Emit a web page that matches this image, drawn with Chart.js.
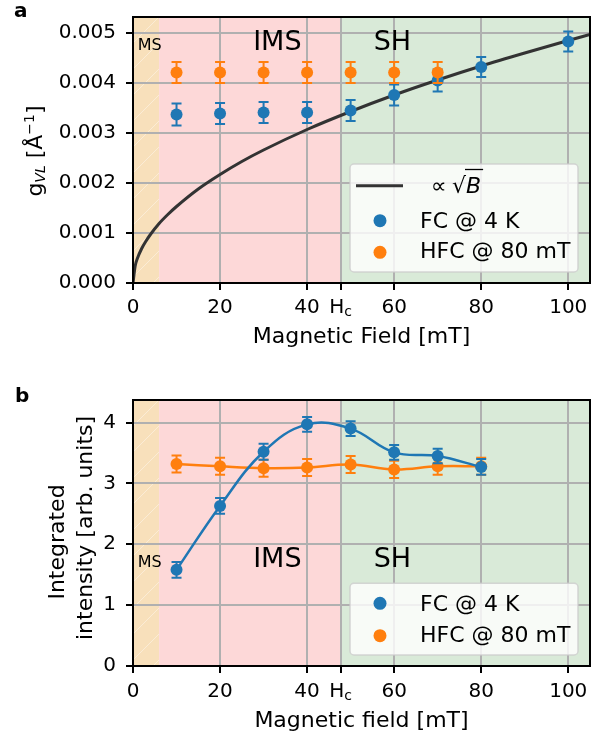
<!DOCTYPE html>
<html>
<head>
<meta charset="utf-8">
<script src="https://cdn.jsdelivr.net/npm/chart.js@4.4.0/dist/chart.umd.min.js"></script>
<style>
  body { margin: 0; background: #fff; width: 600px; height: 737px; position: relative; overflow: hidden; }
  canvas { position: absolute; left: 0; }
  #chart-a { top: 0; }
  #chart-b { top: 350px; }
</style>
</head>
<body>
<canvas id="chart-a" width="600" height="350"></canvas>
<canvas id="chart-b" width="600" height="387"></canvas>
<script>
// panel a: vortex lattice g vs field
const fieldsFC = [10, 20, 30, 40, 50, 60, 70, 80, 100];
const gFC = [0.00337, 0.00339, 0.00341, 0.00341, 0.00345, 0.00376, 0.00405, 0.00432, 0.00483];
const gFCErr = [0.00022, 0.00021, 0.00021, 0.00021, 0.00021, 0.00021, 0.00022, 0.00020, 0.00020];
const fieldsHFC = [10, 20, 30, 40, 50, 60, 70];
const gHFC = [0.00421, 0.00421, 0.00421, 0.00421, 0.00421, 0.00421, 0.00421];
const gHFCErr = [0.00021, 0.00021, 0.00021, 0.00021, 0.00021, 0.00021, 0.00021];
const sqrtFields = [0, 0.5, 1, 2, 3, 4, 6, 8, 10, 15, 20, 25, 30, 40, 50, 60, 70, 80, 90, 100, 105];
const sqrtG = [0, 0.00034, 0.00049, 0.00069, 0.00084, 0.00097, 0.00119, 0.00137, 0.00153, 0.00188,
  0.00217, 0.00243, 0.00266, 0.00307, 0.00343, 0.00376, 0.00406, 0.00434, 0.0046, 0.00485, 0.00497];

// panel b: integrated intensity
const fieldsInt = [10, 20, 30, 40, 50, 60, 70, 80];
const intFC = [1.58, 2.63, 3.52, 3.97, 3.90, 3.51, 3.45, 3.27];
const intFCErr = [0.13, 0.13, 0.13, 0.12, 0.12, 0.12, 0.12, 0.13];
const intHFC = [3.32, 3.28, 3.25, 3.26, 3.31, 3.23, 3.28, 3.28];
const intHFCErr = [0.14, 0.14, 0.14, 0.14, 0.14, 0.14, 0.14, 0.14];

// regions and ticks
const regionEdges = [0, 6, 47.7, 105];
const regionNames = ['MS', 'IMS', 'SH'];
const regionColors = ['#f8e0bb', '#fdd8d8', '#d9ead8'];
const xTicks = [0, 20, 40, 47.7, 60, 80, 100];
const xTickLabels = ['0', '20', '40', 'H_c', '60', '80', '100'];
const yTicksA = [0, 0.001, 0.002, 0.003, 0.004, 0.005];
const yTicksB = [0, 1, 2, 3, 4];

const BLUE = '#1f77b4';
const ORANGE = '#ff7f0e';
const FONT = 'DejaVu Sans';
const FS = 20;      // tick labels
const LS = 22;      // axis titles, legend

const pts = (xs, ys) => xs.map((x, i) => ({ x: x, y: ys[i] }));

function richText(ctx, parts, cx, cy, rotate) {
  ctx.save();
  let total = 0;
  parts.forEach(p => { ctx.font = p.font; p.w = ctx.measureText(p.t).width; total += p.w; });
  ctx.translate(cx, cy);
  if (rotate) ctx.rotate(-Math.PI / 2);
  ctx.textAlign = 'left';
  ctx.textBaseline = 'alphabetic';
  ctx.fillStyle = '#000';
  let x = -total / 2;
  parts.forEach(p => { ctx.font = p.font; ctx.fillText(p.t, x, p.dy || 0); x += p.w; });
  ctx.restore();
}

function decor(opts) {
  return {
    id: 'decor' + opts.panel,
    beforeDraw(chart) {
      const { ctx, chartArea: a } = chart;
      const xs = chart.scales.x;
      ctx.save();
      for (let i = 0; i < regionNames.length; i++) {
        const x0 = xs.getPixelForValue(regionEdges[i]);
        const x1 = Math.min(xs.getPixelForValue(regionEdges[i + 1]), a.right);
        ctx.fillStyle = regionColors[i];
        ctx.fillRect(x0, a.top, x1 - x0, a.bottom - a.top);
      }
      // faint hatch in MS
      const m1 = xs.getPixelForValue(regionEdges[1]);
      ctx.beginPath();
      ctx.rect(a.left, a.top, m1 - a.left, a.bottom - a.top);
      ctx.clip();
      ctx.strokeStyle = 'rgba(255,255,255,0.4)';
      ctx.lineWidth = 1;
      for (let y = a.top; y < a.bottom + 60; y += 26) {
        ctx.beginPath();
        ctx.moveTo(a.left, y);
        ctx.lineTo(a.left + 60, y - 60);
        ctx.stroke();
      }
      ctx.restore();
    },
    beforeDatasetsDraw(chart) {
      const { ctx, chartArea: a } = chart;
      const xs = chart.scales.x;
      ctx.save();
      ctx.fillStyle = '#000';
      ctx.textBaseline = 'alphabetic';
      ctx.textAlign = 'left';
      opts.regionLabels.forEach((r, i) => {
        ctx.font = r.size + 'px ' + FONT;
        ctx.fillText(regionNames[i], xs.getPixelForValue(r.x), a.top + r.dy);
      });
      ctx.restore();
    },
    beforeDatasetDraw(chart, args) {
      const ds = chart.data.datasets[args.index];
      if (!ds.err) return;
      const { ctx } = chart;
      const ys = chart.scales.y;
      ctx.save();
      ctx.strokeStyle = ds.borderColor;
      ctx.lineWidth = 2;
      args.meta.data.forEach((el, i) => {
        const v = ds.data[i].y;
        const yt = ys.getPixelForValue(v + ds.err[i]);
        const yb = ys.getPixelForValue(v - ds.err[i]);
        ctx.beginPath();
        ctx.moveTo(el.x, yt); ctx.lineTo(el.x, yb);
        ctx.moveTo(el.x - 5, yt); ctx.lineTo(el.x + 5, yt);
        ctx.moveTo(el.x - 5, yb); ctx.lineTo(el.x + 5, yb);
        ctx.stroke();
      });
      ctx.restore();
    },
    afterDraw(chart) {
      const { ctx, chartArea: a } = chart;
      const xs = chart.scales.x;
      ctx.save();
      // spines
      ctx.strokeStyle = '#000';
      ctx.lineWidth = 2;
      ctx.strokeRect(a.left, a.top, a.right - a.left, a.bottom - a.top);

      // H_c tick label, on the same line as the other tick labels
      const hx = xs.getPixelForValue(xTicks[xTickLabels.indexOf('H_c')]);
      const hy = xs.top + 7 + opts.tickPad + FS * 0.6;
      ctx.fillStyle = '#000';
      ctx.textBaseline = 'middle';
      ctx.textAlign = 'left';
      ctx.font = FS + 'px ' + FONT;
      const wH = ctx.measureText('H').width;
      ctx.font = '14px ' + FONT;
      const wc = ctx.measureText('c').width;
      const hx0 = hx - (wH + wc) / 2;
      ctx.font = FS + 'px ' + FONT;
      ctx.fillText('H', hx0, hy);
      ctx.font = '14px ' + FONT;
      ctx.fillText('c', hx0 + wH, hy + 5);

      // panel letter
      ctx.textBaseline = 'alphabetic';
      ctx.font = 'bold 20px ' + FONT;
      ctx.fillText(opts.panel, opts.panelPos[0], opts.panelPos[1]);

      // y title
      opts.yTitle.forEach(t => richText(ctx, t.parts, t.x, t.y, true));

      // legend
      const L = opts.legend;
      ctx.beginPath();
      ctx.roundRect(L.box[0], L.box[1], L.box[2], L.box[3], 4);
      ctx.fillStyle = 'rgba(255,255,255,0.8)';
      ctx.fill();
      ctx.strokeStyle = 'rgba(204,204,204,0.8)';
      ctx.lineWidth = 1.5;
      ctx.stroke();
      L.rows.forEach(r => {
        const ds = chart.data.datasets[r.ds];
        if (r.kind === 'line') {
          ctx.strokeStyle = ds.borderColor;
          ctx.lineWidth = 3;
          ctx.beginPath();
          ctx.moveTo(356, r.y); ctx.lineTo(403, r.y);
          ctx.stroke();
          ctx.fillStyle = '#000';
          ctx.font = LS + 'px ' + FONT;
          ctx.fillText('\u221D', 431, r.base);
          ctx.fillText('\u221A', 452, r.base);
          const wr = ctx.measureText('\u221A').width;
          ctx.font = 'italic ' + LS + 'px ' + FONT;
          ctx.fillText('B', 452 + wr, r.base);
          const wb = ctx.measureText('B').width;
          ctx.lineWidth = 1.3;
          ctx.strokeStyle = '#000';
          ctx.beginPath();
          ctx.moveTo(452 + wr - 1, r.base - 23);
          ctx.lineTo(452 + wr + wb + 2, r.base - 23);
          ctx.stroke();
        } else {
          ctx.fillStyle = ds.backgroundColor;
          ctx.beginPath();
          ctx.arc(380, r.y, 6.5, 0, Math.PI * 2);
          ctx.fill();
          ctx.fillStyle = '#000';
          ctx.font = LS + 'px ' + FONT;
          ctx.fillText(ds.label, 420, r.base);
        }
      });
      ctx.restore();
    }
  };
}

function xScale(height, title, titlePad, tickPad) {
  return {
    type: 'linear', min: 0, max: 105,
    afterBuildTicks: s => { s.ticks = xTicks.map(v => ({ value: v })); },
    afterFit: s => { s.height = height; s.paddingLeft = 0; s.paddingRight = 0; },
    ticks: {
      color: '#000', font: { family: FONT, size: FS }, padding: tickPad, maxRotation: 0,
      callback: (v, i) => xTickLabels[i].indexOf('_') >= 0 ? '' : xTickLabels[i]
    },
    grid: { color: '#b0b0b0', lineWidth: 2, tickColor: '#000', tickWidth: 2, tickLength: 7 },
    border: { display: false },
    title: { display: true, text: title, color: '#000', font: { family: FONT, size: LS }, padding: { top: 0, bottom: titlePad } }
  };
}

function yScale(max, ticks, fmt) {
  return {
    type: 'linear', min: 0, max: max,
    afterBuildTicks: s => { s.ticks = ticks.map(v => ({ value: v })); },
    afterFit: s => { s.width = 133; s.paddingTop = 0; s.paddingBottom = 0; },
    ticks: { color: '#000', font: { family: FONT, size: FS }, padding: 10, callback: fmt },
    grid: { color: '#b0b0b0', lineWidth: 2, tickColor: '#000', tickWidth: 2, tickLength: 7 },
    border: { display: false }
  };
}

const baseOpts = {
  responsive: false,
  animation: false,
  devicePixelRatio: 1,
  plugins: { legend: { display: false }, tooltip: { enabled: false } }
};

new Chart(document.getElementById('chart-a'), {
  type: 'scatter',
  data: {
    datasets: [
      { label: 'HFC @ 80 mT', data: pts(fieldsHFC, gHFC), err: gHFCErr, backgroundColor: ORANGE, borderColor: ORANGE,
        pointRadius: 6, pointBorderWidth: 0, showLine: false, order: 0 },
      { label: 'FC @ 4 K', data: pts(fieldsFC, gFC), err: gFCErr, backgroundColor: BLUE, borderColor: BLUE,
        pointRadius: 6, pointBorderWidth: 0, showLine: false, order: 1 },
      { label: '\u221D \u221AB', data: pts(sqrtFields, sqrtG), borderColor: '#333333', backgroundColor: '#333333',
        borderWidth: 3, pointRadius: 0, showLine: true, cubicInterpolationMode: 'monotone', order: 2 }
    ]
  },
  options: Object.assign({}, baseOpts, {
    layout: { padding: { top: 17, right: 10, left: 0, bottom: 0 } },
    scales: {
      x: xScale(67, 'Magnetic Field [mT]', 0, 5.5),
      y: yScale(0.00532, yTicksA, v => v.toFixed(3))
    }
  }),
  plugins: [decor({
    panel: 'a', panelPos: [14, 17], tickPad: 5.5,
    regionLabels: [{ x: 1.1, dy: 33, size: 16 }, { x: 27.6, dy: 33, size: 27 }, { x: 55.3, dy: 33, size: 27 }],
    yTitle: [{ x: 42, y: 151, parts: [
      { t: 'g', font: LS + 'px ' + FONT },
      { t: 'VL', font: 'italic 14px ' + FONT, dy: 3 },
      { t: ' [\u00C5', font: LS + 'px ' + FONT },
      { t: '\u22121', font: '14px ' + FONT, dy: -8 },
      { t: ']', font: LS + 'px ' + FONT }
    ] }],
    legend: { box: [350, 164, 228, 108], rows: [
      { kind: 'line', ds: 2, y: 185.7, base: 192.5 },
      { kind: 'dot', ds: 1, y: 220.7, base: 227.5 },
      { kind: 'dot', ds: 0, y: 252.3, base: 258 }
    ] }
  })]
});

new Chart(document.getElementById('chart-b'), {
  type: 'scatter',
  data: {
    datasets: [
      { label: 'FC @ 4 K', data: pts(fieldsInt, intFC), err: intFCErr, backgroundColor: BLUE, borderColor: BLUE,
        pointRadius: 6, pointBorderWidth: 0, borderWidth: 2.5, showLine: true, tension: 0.4, order: 0 },
      { label: 'HFC @ 80 mT', data: pts(fieldsInt, intHFC), err: intHFCErr, backgroundColor: ORANGE, borderColor: ORANGE,
        pointRadius: 6, pointBorderWidth: 0, borderWidth: 2.5, showLine: true, tension: 0.4, order: 1 }
    ]
  },
  options: Object.assign({}, baseOpts, {
    layout: { padding: { top: 50, right: 10, left: 0, bottom: 0 } },
    scales: {
      x: xScale(71, 'Magnetic field [mT]', 3, 6.5),
      y: yScale(4.37, yTicksB, v => String(v))
    }
  }),
  plugins: [decor({
    panel: 'b', panelPos: [15, 52], tickPad: 6.5,
    regionLabels: [{ x: 1.1, dy: 166.7, size: 16 }, { x: 27.6, dy: 166.7, size: 27 }, { x: 55.3, dy: 166.7, size: 27 }],
    yTitle: [
      { x: 64, y: 192, parts: [{ t: 'Integrated', font: LS + 'px ' + FONT }] },
      { x: 92, y: 178, parts: [{ t: 'intensity [arb. units]', font: LS + 'px ' + FONT }] }
    ],
    legend: { box: [350, 233.3, 228, 71.7], rows: [
      { kind: 'dot', ds: 0, y: 253.3, base: 260.5 },
      { kind: 'dot', ds: 1, y: 285.7, base: 292 }
    ] }
  })]
});
</script>
</body>
</html>
